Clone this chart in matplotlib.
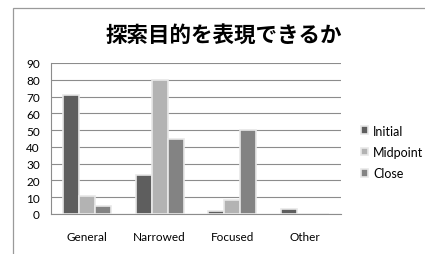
import matplotlib
matplotlib.use("Agg")
import matplotlib.pyplot as plt
import numpy as np
from matplotlib.patches import Rectangle

categories = ["General", "Narrowed", "Focused", "Other"]
series_names = ["Initial", "Midpoint", "Close"]
initial = [71, 23, 1.5, 3]
midpoint = [11, 80, 8.5, 0]
close = [4.5, 45, 50, 0]
colors = ["#5e5e5e", "#b3b3b3", "#838383"]
yticks = list(range(0, 91, 10))

plt.rcParams['font.family'] = ['Lato', 'DejaVu Sans']

W, H = 425, 255
fig = plt.figure(figsize=(W / 100, H / 100), dpi=100)
fig.patch.set_facecolor("white")

# outer chart frame (partial, extends beyond the image)
fig.add_artist(Rectangle((13 / W, -0.1), 1.2, 1 - 9 / H + 0.1, transform=fig.transFigure,
                         fill=False, edgecolor="#9a9a9a", linewidth=0.9))

left, right, top, bottom = 51, 341, 64, 215
ax = fig.add_axes([left / W, 1 - bottom / H, (right - left) / W, (bottom - top) / H])

x = np.arange(len(categories))
bw = 0.22
for i, (vals, name) in enumerate(zip([initial, midpoint, close], series_names)):
    ax.bar(x + (i - 1) * bw, vals, width=bw, color=colors[i], label=name,
           edgecolor="#e8e8e8", linewidth=1.2, zorder=3)

ax.set_xlim(-0.5, len(categories) - 0.5)
ax.set_ylim(0, 90)
ax.set_yticks(yticks)
ax.set_yticklabels([str(t) for t in yticks], fontsize=8.5)
ax.set_xticks(x)
ax.set_xticklabels(categories, fontsize=8.5)
ax.tick_params(axis="both", length=0)
ax.tick_params(axis="y", pad=8)
ax.tick_params(axis="x", pad=12)
ax.grid(axis="y", color="#8c8c8c", linewidth=0.8, zorder=0)
ax.set_axisbelow(True)
for s in ["top", "right"]:
    ax.spines[s].set_visible(False)
ax.spines["left"].set_color("#8c8c8c")
ax.spines["bottom"].set_color("#8c8c8c")
ax.spines["left"].set_linewidth(0.8)
ax.spines["bottom"].set_linewidth(0.8)

fig.text(224 / W, 1 - 35 / H, "探索目的を表現できるか", ha="center", va="center",
         fontsize=15.5, fontweight="bold", family=["Noto Sans CJK JP", "DejaVu Sans"])

leg = ax.legend(loc="center left", bbox_to_anchor=(356 / W, 1 - 153 / H),
                bbox_transform=fig.transFigure, frameon=False, fontsize=9,
                handlelength=0.55, handleheight=0.55, handletextpad=0.4, labelspacing=0.75,
                borderaxespad=0)

fig.savefig("out.png", dpi=100)
